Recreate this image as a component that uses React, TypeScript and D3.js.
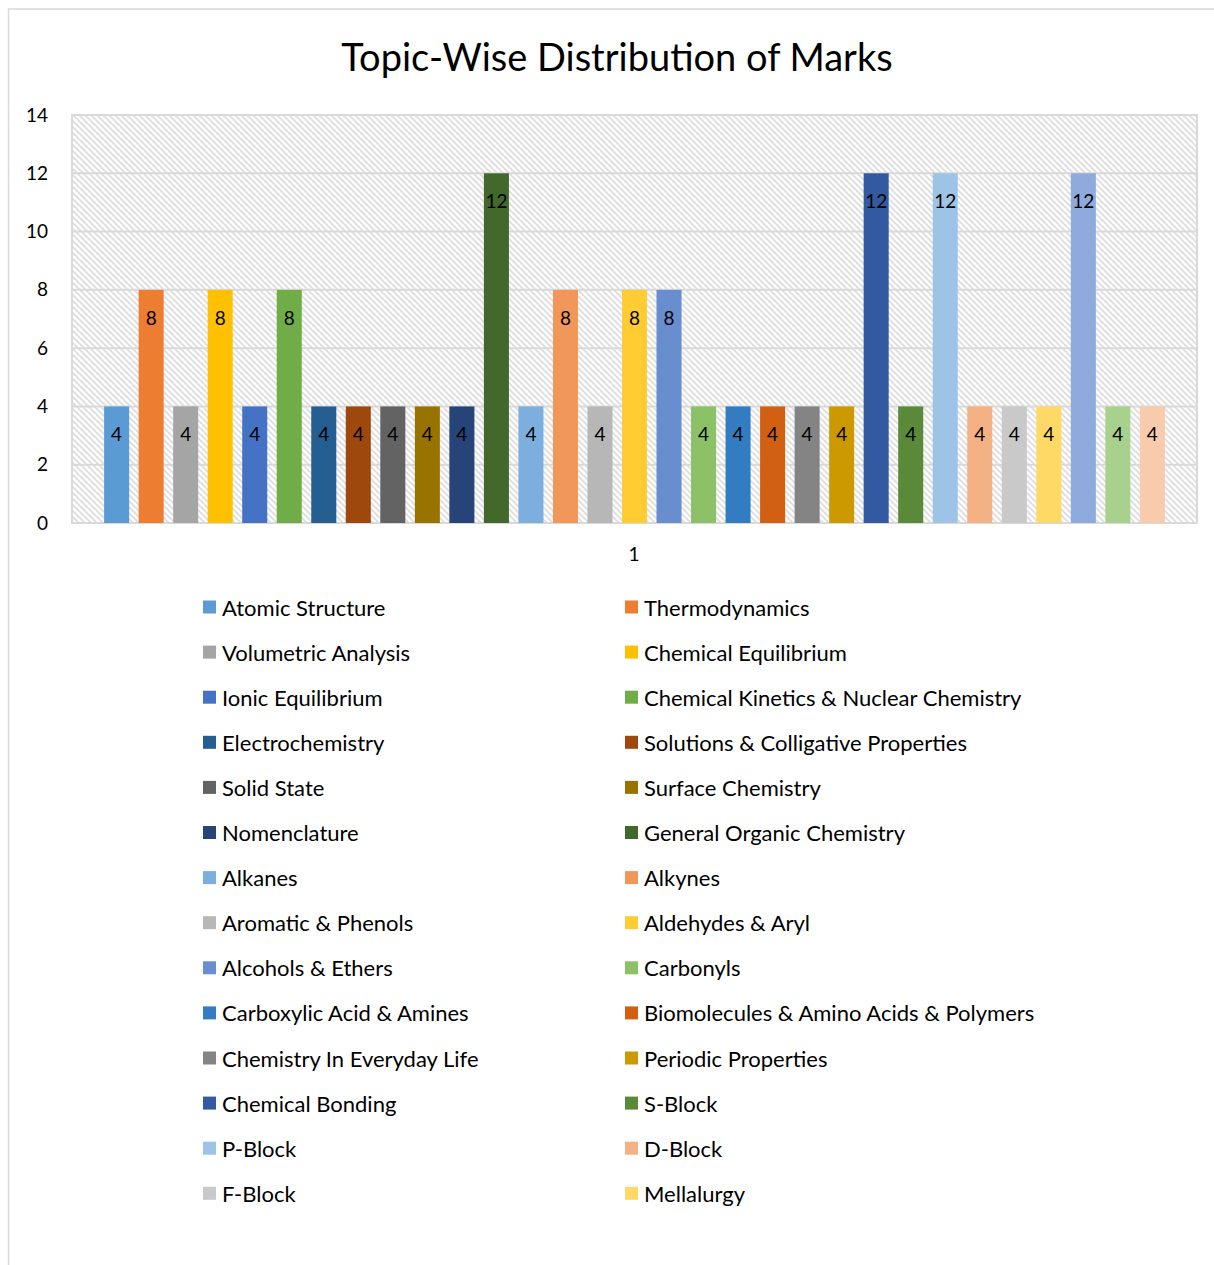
import React from "react";
import * as d3 from "d3";

const title = "Topic-Wise Distribution of Marks";

const legendTopics = [
  "Atomic Structure", "Thermodynamics", "Volumetric Analysis", "Chemical Equilibrium",
  "Ionic Equilibrium", "Chemical Kinetics & Nuclear Chemistry", "Electrochemistry",
  "Solutions & Colligative Properties", "Solid State", "Surface Chemistry", "Nomenclature",
  "General Organic Chemistry", "Alkanes", "Alkynes", "Aromatic & Phenols", "Aldehydes & Aryl",
  "Alcohols & Ethers", "Carbonyls", "Carboxylic Acid & Amines",
  "Biomolecules & Amino Acids & Polymers", "Chemistry In Everyday Life", "Periodic Properties",
  "Chemical Bonding", "S-Block", "P-Block", "D-Block", "F-Block", "Mellalurgy",
];

// 31 bars in the chart; the legend only lists the first 28
const marks = [4, 8, 4, 8, 4, 8, 4, 4, 4, 4, 4, 12, 4, 8, 4, 8, 8, 4, 4, 4, 4, 4, 12, 4, 12, 4, 4, 4, 12, 4, 4];

const colors = [
  "#5B9BD5", "#ED7D31", "#A5A5A5", "#FFC000", "#4472C4", "#70AD47",
  "#255E91", "#9E480E", "#636363", "#997300", "#264478", "#43682B",
  "#7CAFDD", "#F1975A", "#B7B7B7", "#FFCD33", "#698ED0", "#8CC168",
  "#327DC2", "#D26012", "#848484", "#CC9A00", "#335AA1", "#5A8A39",
  "#9DC3E6", "#F4B183", "#C9C9C9", "#FFD966", "#8FAADC", "#A9D18E", "#F8CBAD",
];

const yTicks = [0, 2, 4, 6, 8, 10, 12, 14];
const categoryLabel = "1";

const FONT = "Lato, 'Open Sans', sans-serif";
const GRID = "#d9d9d9";

export default function App() {
  const W = 1214, H = 1265;
  const plot = { left: 72, right: 1197, top: 115, bottom: 523 };

  const y = d3.scaleLinear().domain([0, 14]).range([plot.bottom, plot.top]);
  const x = d3
    .scaleBand<number>()
    .domain(d3.range(marks.length))
    .range([plot.left, plot.right])
    .paddingInner(0.275)
    .paddingOuter(0.93);

  const legendX = [203, 625];
  const legendY0 = 607;
  const legendStep = 45.1;

  return (
    <svg width={W} height={H} style={{ position: "absolute", left: 0, top: 0, background: "#fff" }}>
      <defs>
        <pattern id="hatch" patternUnits="userSpaceOnUse" width="6" height="6">
          <rect width="6" height="6" fill="#fff" />
          <path d="M-1,-1 L7,7 M-1,5 L1,7 M5,-1 L7,1" stroke="#dcdcdc" strokeWidth="1.6" />
        </pattern>
      </defs>
      {/* chart frame */}
      <rect x={8.5} y={9} width={W + 10} height={H + 10} fill="#fff" stroke={GRID} strokeWidth={1.5} />

      <text x={617} y={56} textAnchor="middle" dominantBaseline="central" fontFamily={FONT} fontSize={38} fill="#000">
        {title}
      </text>

      {/* plot area */}
      <rect x={plot.left} y={plot.top} width={plot.right - plot.left} height={plot.bottom - plot.top} fill="url(#hatch)" stroke={GRID} strokeWidth={2} />
      {yTicks.map((t) => (
        <g key={t}>
          <line x1={plot.left} x2={plot.right} y1={y(t)} y2={y(t)} stroke={GRID} strokeWidth={2} />
          <text x={48} y={y(t) - 1} textAnchor="end" dominantBaseline="central" fontFamily={FONT} fontSize={19} fill="#000">
            {t}
          </text>
        </g>
      ))}

      {marks.map((v, i) => (
        <g key={i}>
          <rect x={x(i)} y={y(v)} width={x.bandwidth()} height={y(0) - y(v)} fill={colors[i]} />
          <text x={(x(i) as number) + x.bandwidth() / 2} y={y(v) + 27.5} textAnchor="middle" dominantBaseline="central" fontFamily={FONT} fontSize={19} fill="#000">
            {v}
          </text>
        </g>
      ))}

      <text x={634} y={553.5} textAnchor="middle" dominantBaseline="central" fontFamily={FONT} fontSize={19} fill="#000">
        {categoryLabel}
      </text>

      {legendTopics.map((name, i) => {
        const col = i % 2;
        const row = Math.floor(i / 2);
        const cy = legendY0 + row * legendStep;
        return (
          <g key={name}>
            <rect x={legendX[col]} y={cy - 6.5} width={13} height={13} fill={colors[i]} />
            <text x={legendX[col] + 19} y={cy} dominantBaseline="central" fontFamily={FONT} fontSize={22} fill="#000">
              {name}
            </text>
          </g>
        );
      })}
    </svg>
  );
}
